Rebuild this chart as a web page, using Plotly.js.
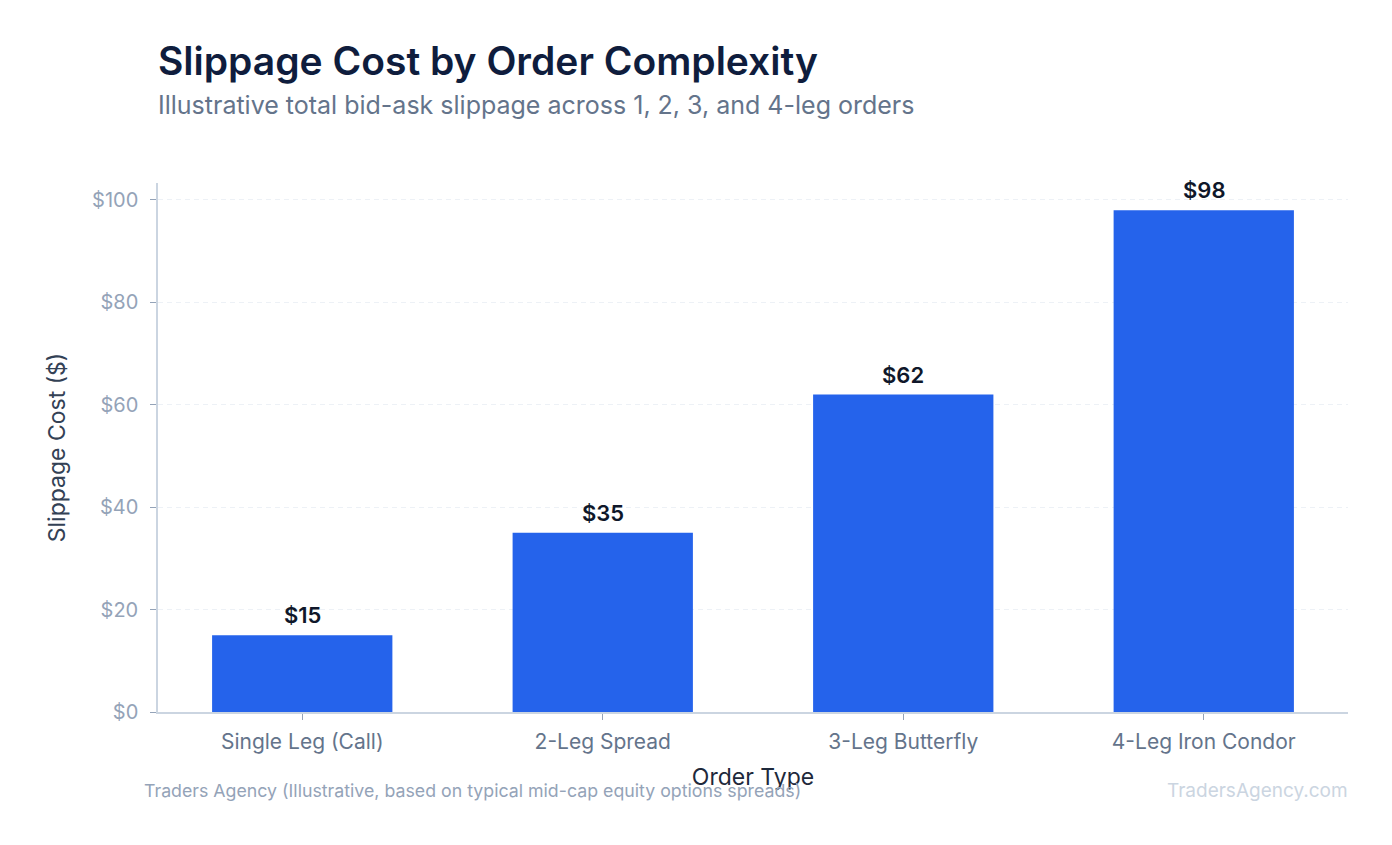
<!DOCTYPE html>
<html>
<head>
<meta charset="utf-8">
<script src="https://cdn.plot.ly/plotly-3.0.1.min.js"></script>
<style>
html,body{margin:0;padding:0;background:#fff;}
#chart{width:1392px;height:845px;}
</style>
</head>
<body>
<div id="chart"></div>
<script>
const categories = ["Single Leg (Call)", "2-Leg Spread", "3-Leg Butterfly", "4-Leg Iron Condor"];
const slippage = [15, 35, 62, 98];
const barLabels = ["$15", "$35", "$62", "$98"];
const yTickVals = [0, 20, 40, 60, 80, 100];
const yTickText = ["$0", "$20", "$40", "$60", "$80", "$100"];

const FONT = "Inter, 'Noto Sans', sans-serif";

const trace = {
  type: "bar",
  x: categories,
  y: slippage,
  marker: {color: "#2563eb"},
  hoverinfo: "x+y"
};

const labelAnnotations = categories.map((c, i) => ({
  x: c, y: slippage[i], xref: "x", yref: "y",
  text: barLabels[i],
  showarrow: false,
  xanchor: "center", yanchor: "bottom",
  yshift: 5,
  font: {family: FONT, size: 22, color: "#0f172a", weight: 600}
}));

const layout = {
  width: 1392,
  height: 845,
  paper_bgcolor: "#ffffff",
  plot_bgcolor: "#ffffff",
  font: {family: FONT},
  margin: {l: 158, r: 44, t: 183, b: 133},
  bargap: 0.4,
  showlegend: false,
  xaxis: {
    type: "category",
    range: [-0.48, 3.48],
    showline: true,
    linecolor: "#cbd5e1",
    linewidth: 1.5,
    ticks: "outside",
    ticklen: 6,
    tickcolor: "#94a3b8",
    ticklabelstandoff: 4,
    tickfont: {family: FONT, size: 21, color: "#64748b"},
    showgrid: false,
    title: {text: "Order Type", font: {family: FONT, size: 23, color: "#1e293b"}, standoff: 16}
  },
  yaxis: {
    range: [0, 103.3],
    tickvals: yTickVals,
    ticktext: yTickText,
    showline: true,
    linecolor: "#cbd5e1",
    linewidth: 1.5,
    ticks: "outside",
    ticklen: 6,
    tickcolor: "#94a3b8",
    ticklabelstandoff: 8,
    tickfont: {family: FONT, size: 20, color: "#94a3b8"},
    showgrid: true,
    gridcolor: "#edf1f6",
    griddash: "5px,4px",
    gridwidth: 1,
    zeroline: false,
    title: {text: "Slippage Cost ($)", font: {family: FONT, size: 23, color: "#334155"}, standoff: 20}
  },
  annotations: labelAnnotations.concat([
    {
      text: "Slippage Cost by Order Complexity",
      xref: "paper", yref: "paper", x: 0, y: 1, xanchor: "left", yanchor: "bottom",
      xshift: -2, yshift: 97,
      font: {family: FONT, size: 39, color: "#0f1d3d", weight: 600},
      showarrow: false
    },
    {
      text: "Illustrative total bid-ask slippage across 1, 2, 3, and 4-leg orders",
      xref: "paper", yref: "paper", x: 0, y: 1, xanchor: "left", yanchor: "bottom",
      xshift: -2, yshift: 61,
      font: {family: FONT, size: 25, color: "#64748b"},
      showarrow: false
    },
    {
      text: "Traders Agency (Illustrative, based on typical mid-cap equity options spreads)",
      xref: "paper", yref: "paper", x: 0, y: 0, xanchor: "left", yanchor: "top",
      xshift: -16, yshift: -66,
      font: {family: FONT, size: 17.75, color: "#94a3b8"},
      showarrow: false
    },
    {
      text: "TradersAgency.com",
      xref: "paper", yref: "paper", x: 1, y: 0, xanchor: "right", yanchor: "top",
      xshift: 2, yshift: -65,
      font: {family: FONT, size: 19, color: "#cbd5e1"},
      showarrow: false
    }
  ])
};

Plotly.newPlot("chart", [trace], layout, {displayModeBar: false, responsive: false});
</script>
</body>
</html>
